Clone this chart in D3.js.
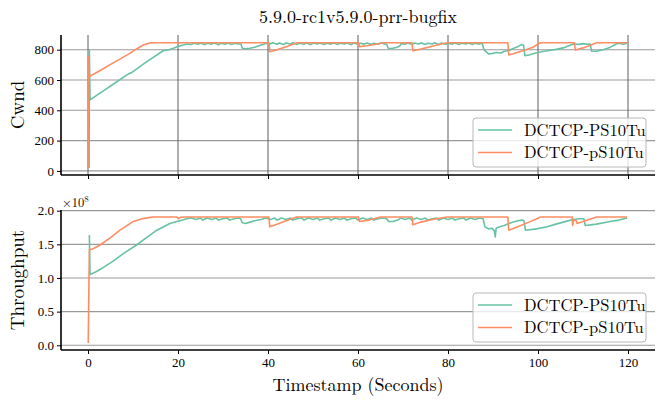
<!DOCTYPE html>
<html>
<head>
<meta charset="utf-8">
<script src="https://cdn.jsdelivr.net/npm/d3@7"></script>
<style>
  body { margin: 0; background: #fff; }
  svg text { font-family: "Latin Modern Roman", "Liberation Serif", "DejaVu Serif", serif; fill: #000; }
</style>
</head>
<body>
<div id="chart"></div>
<script>
// values, [seconds, value]
const seriesNames = ["DCTCP-PS10Tu", "DCTCP-pS10Tu"]
const seriesColors = ["#66c2a5", "#fc8d62"]
const xTicks = [0, 20, 40, 60, 80, 100, 120]
const cwndTicks = [0, 200, 400, 600, 800]
const throughputTicks = [0, 0.5, 1.0, 1.5, 2.0]   // x 1e8

const cwndPS10Tu = [
  [0.25, 20], [0.3, 798], [0.45, 469], [3, 520], [6, 580], [9, 640], [10, 655], [10.3, 662],
  [13, 720], [16.7, 793], [18, 800], [19, 810], [20, 822], [21, 830], [22, 838],
  [23, 834], [23.5, 843], [24.5, 836], [25, 844], [26, 833], [26.5, 843], [27.5, 837], [28, 845],
  [29, 832], [29.5, 843], [30.5, 836], [31, 844], [32, 835], [32.5, 842], [33.5, 838],
  [34, 838], [34.3, 810], [35, 806], [36, 810], [37, 816], [38, 826], [39, 836], [39.5, 842],
  [40.5, 838], [41, 846], [42, 836], [42.5, 845], [43.5, 834], [44, 844], [45, 837], [45.5, 846],
  [46.5, 835], [47, 843], [48, 836], [48.5, 845], [49.5, 833], [50, 844], [51, 838], [51.5, 845],
  [52.5, 834], [53, 843], [54, 837], [54.5, 846], [55.5, 835], [56, 843], [57, 838], [57.5, 845],
  [58.5, 833], [59, 844], [60, 836], [60.5, 843], [61.5, 837], [62, 845], [63, 834], [63.5, 843],
  [64.5, 836], [65, 844], [66, 838],
  [66.4, 835], [66.7, 810], [67.5, 808], [68.5, 815], [69.3, 825], [69.6, 840],
  [70.5, 836], [71, 845], [72, 834], [72.5, 844], [73.5, 837], [74, 845], [75, 835], [75.5, 843],
  [76.5, 838], [77, 846], [78, 833], [78.5, 844], [79.5, 836], [80, 843], [81, 837], [81.5, 845],
  [82.5, 834], [83, 843], [84, 838], [84.5, 845], [85.5, 835], [86, 843], [87, 837], [87.6, 842],
  [88, 800], [89, 772], [90, 776], [90.8, 782], [91.8, 778], [92.5, 790], [93.5, 795], [94.6, 810],
  [95.5, 820], [96.4, 835], [96.8, 830], [97.1, 760], [98, 765], [99.7, 780], [101, 788],
  [102.5, 795], [104, 802], [105.6, 812], [107, 828], [107.9, 838], [109, 835], [110, 840],
  [111, 836], [111.6, 838], [111.9, 790], [113, 790], [114.5, 800], [116, 815], [117.4, 838],
  [118, 842], [119, 836], [119.8, 842]
]

const cwndpS10Tu = [
  [0, 18], [0.1, 754], [0.2, 621], [3, 668], [6, 720], [9.3, 776], [10.5, 800], [12.3, 831],
  [13.5, 842], [14.2, 846], [19.8, 846], [20, 838], [20.3, 846], [40.2, 846], [40.4, 787],
  [41.5, 795], [43, 810], [44.5, 825], [46.4, 846], [60.1, 846], [60.3, 820], [62, 826],
  [64, 836], [65.7, 846], [72, 846], [72.2, 793], [74, 805], [76, 820], [78, 834], [79.8, 846],
  [93.3, 846], [93.5, 765], [95, 778], [97, 797], [99, 818], [100.1, 840], [100.6, 846],
  [108.1, 846], [108.3, 798], [110, 812], [111.5, 828], [113, 846], [119.8, 846]
]

const throughputPS10Tu = [
  [0.3, 1.64], [0.45, 1.05], [2, 1.10], [3, 1.14], [5.6, 1.25], [8, 1.37], [10.8, 1.49],
  [13, 1.60], [15.3, 1.71], [18.2, 1.81], [19.7, 1.84], [21, 1.86], [21.9, 1.88],
  [23, 1.89], [24, 1.87], [25, 1.89], [25.5, 1.86], [26.5, 1.89], [27.5, 1.87], [28.5, 1.89],
  [29, 1.86], [30, 1.88], [31, 1.89], [31.5, 1.86], [32.5, 1.88], [33.5, 1.89],
  [33.9, 1.88], [34.3, 1.82], [35, 1.81], [36, 1.83], [37, 1.85], [38.5, 1.87], [39.5, 1.89],
  [40.5, 1.87], [41.5, 1.89], [42, 1.86], [43, 1.89], [44, 1.87], [45, 1.89], [45.5, 1.86],
  [46.5, 1.88], [47.5, 1.89], [48, 1.86], [49, 1.89], [50, 1.87], [51, 1.89], [51.5, 1.86],
  [52.5, 1.88], [53.5, 1.89], [54, 1.86], [55, 1.89], [56, 1.87], [57, 1.89], [57.5, 1.86],
  [58.5, 1.88], [59.5, 1.89], [60, 1.86], [61, 1.89], [62, 1.87], [63, 1.89], [63.5, 1.86],
  [64.5, 1.88], [65.5, 1.89],
  [66.4, 1.88], [66.8, 1.84], [67.8, 1.84], [68.8, 1.86], [69.5, 1.89],
  [70.5, 1.87], [71.5, 1.89], [72, 1.86], [73, 1.89], [74, 1.87], [75, 1.89], [75.5, 1.86],
  [76.5, 1.88], [77.5, 1.89], [78, 1.86], [79, 1.89], [80, 1.87], [81, 1.89], [81.5, 1.86],
  [82.5, 1.88], [83.5, 1.89], [84, 1.86], [85, 1.89], [86, 1.87], [87, 1.89],
  [87.8, 1.88], [88.2, 1.76], [89, 1.73], [89.8, 1.74], [90.3, 1.70], [90.5, 1.61], [90.7, 1.74],
  [91.5, 1.76], [92.5, 1.78], [94, 1.82], [95.5, 1.85], [96.4, 1.86], [96.9, 1.85], [97.2, 1.71],
  [99.7, 1.73], [102, 1.76], [104, 1.80], [105.6, 1.83], [107.8, 1.87], [109, 1.88],
  [110.2, 1.88], [110.5, 1.78], [113, 1.80], [116, 1.84], [118, 1.86], [119.8, 1.89]
]

const throughputpS10Tu = [
  [0.05, 0.035], [0.3, 1.42], [1, 1.43], [2.7, 1.49], [5, 1.60], [7.1, 1.71], [10.1, 1.84],
  [12, 1.88], [13.8, 1.90], [14.5, 1.905], [19.8, 1.905], [20.1, 1.88], [20.5, 1.90],
  [21.5, 1.905], [40.2, 1.905], [40.4, 1.76], [42, 1.80], [44, 1.85], [46.4, 1.905],
  [60.1, 1.905], [60.3, 1.84], [62.5, 1.86], [65, 1.905], [72, 1.905], [72.2, 1.79],
  [74, 1.83], [76.5, 1.87], [79.8, 1.905], [93.3, 1.905], [93.5, 1.71], [95.5, 1.76],
  [98, 1.83], [100.1, 1.89], [100.5, 1.905], [107.6, 1.905], [107.7, 1.78], [107.9, 1.86],
  [108.5, 1.85], [108.7, 1.81], [110.5, 1.85], [113, 1.905], [119.8, 1.905]
]

const config = {
  width: 664,
  height: 405,
  left: 61,
  right: 655,
  xDomain: [-6, 126],
  panels: [
    {top: 35, bottom: 175, domain: [-27, 897], ticks: cwndTicks, format: d3.format("d"),
     label: "Cwnd", series: [cwndPS10Tu, cwndpS10Tu], vGrid: true, xLabels: false},
    {top: 210, bottom: 350, domain: [-0.07, 2.01], ticks: throughputTicks, format: d3.format(".1f"),
     label: "Throughput", series: [throughputPS10Tu, throughputpS10Tu], vGrid: false, xLabels: true}
  ]
}

const svg = d3.select("#chart").append("svg")
  .attr("width", config.width)
  .attr("height", config.height)

const x = d3.scaleLinear().domain(config.xDomain).range([config.left, config.right])

function drawPanel (p) {
  const y = d3.scaleLinear().domain(p.domain).range([p.bottom, p.top])
  const g = svg.append("g")

  // grid
  g.selectAll(".hgrid").data(p.ticks).enter().append("line")
    .attr("x1", config.left).attr("x2", config.right)
    .attr("y1", d => y(d)).attr("y2", d => y(d))
    .attr("stroke", "#9a9a9a").attr("stroke-width", 1.1)

  if (p.vGrid) {
    g.selectAll(".vgrid").data(xTicks).enter().append("line")
      .attr("x1", d => x(d)).attr("x2", d => x(d))
      .attr("y1", p.top).attr("y2", p.bottom)
      .attr("stroke", "#5f5f5f").attr("stroke-width", 1)
  }

  // series
  const line = d3.line().x(d => x(d[0])).y(d => y(d[1]))
  p.series.forEach((s, i) => {
    g.append("path")
      .datum(s)
      .attr("fill", "none")
      .attr("stroke", seriesColors[i])
      .attr("stroke-width", 1.6)
      .attr("stroke-linejoin", "round")
      .attr("d", line)
  })

  // axes
  const yAxis = g.append("g")
    .attr("transform", `translate(${config.left},0)`)
    .call(d3.axisLeft(y).tickValues(p.ticks).tickFormat(p.format).tickSize(4).tickPadding(3))
  const xAxis = g.append("g")
    .attr("transform", `translate(0,${p.bottom})`)
    .call(d3.axisBottom(x).tickValues(xTicks).tickSize(4).tickPadding(4)
      .tickFormat(p.xLabels ? d3.format("d") : ""))

  ;[yAxis, xAxis].forEach(a => {
    a.select(".domain").attr("stroke", "#000").attr("stroke-width", 1.6)
    a.selectAll(".tick line").attr("stroke", "#000").attr("stroke-width", 1)
    a.selectAll(".tick text").style("font-size", "13px")
      .style("font-family", "\"Liberation Serif\", serif")
  })
  yAxis.select(".domain").attr("d", `M0,${p.top}V${p.bottom}`)
  xAxis.select(".domain").attr("d", `M${config.left},0H${config.right}`)

  // y label
  svg.append("text")
    .attr("transform", `translate(24,${(p.top + p.bottom) / 2}) rotate(-90)`)
    .attr("text-anchor", "middle")
    .style("font-size", "19px")
    .text(p.label)

  drawLegend(p.bottom - 57)
}

function drawLegend (top) {
  const lg = svg.append("g").attr("transform", `translate(473,${top})`)
  lg.append("rect")
    .attr("width", 173).attr("height", 49)
    .attr("rx", 3)
    .attr("fill", "#fff").attr("fill-opacity", 0.8)
    .attr("stroke", "#b8b8b8").attr("stroke-width", 1)
  seriesNames.forEach((name, i) => {
    const cy = 12 + i * 22.5
    lg.append("line")
      .attr("x1", 5).attr("x2", 39)
      .attr("y1", cy).attr("y2", cy)
      .attr("stroke", seriesColors[i]).attr("stroke-width", 1.5)
    lg.append("text")
      .attr("x", 51).attr("y", cy + 5.5)
      .style("font-size", "16.5px")
      .text(name)
  })
}

config.panels.forEach(drawPanel)

// offset text for the throughput axis
const offset = svg.append("text")
  .attr("x", 62).attr("y", 207)
  .style("font-size", "12.5px")
offset.append("tspan").text("×10")
offset.append("tspan").attr("dy", -5).style("font-size", "9px").text("8")

svg.append("text")
  .attr("x", (config.left + config.right) / 2).attr("y", 23)
  .attr("text-anchor", "middle")
  .style("font-size", "18px")
  .text("5.9.0-rc1v5.9.0-prr-bugfix")

svg.append("text")
  .attr("x", (config.left + config.right) / 2).attr("y", 391)
  .attr("text-anchor", "middle")
  .style("font-size", "18px")
  .text("Timestamp (Seconds)")
</script>
</body>
</html>
